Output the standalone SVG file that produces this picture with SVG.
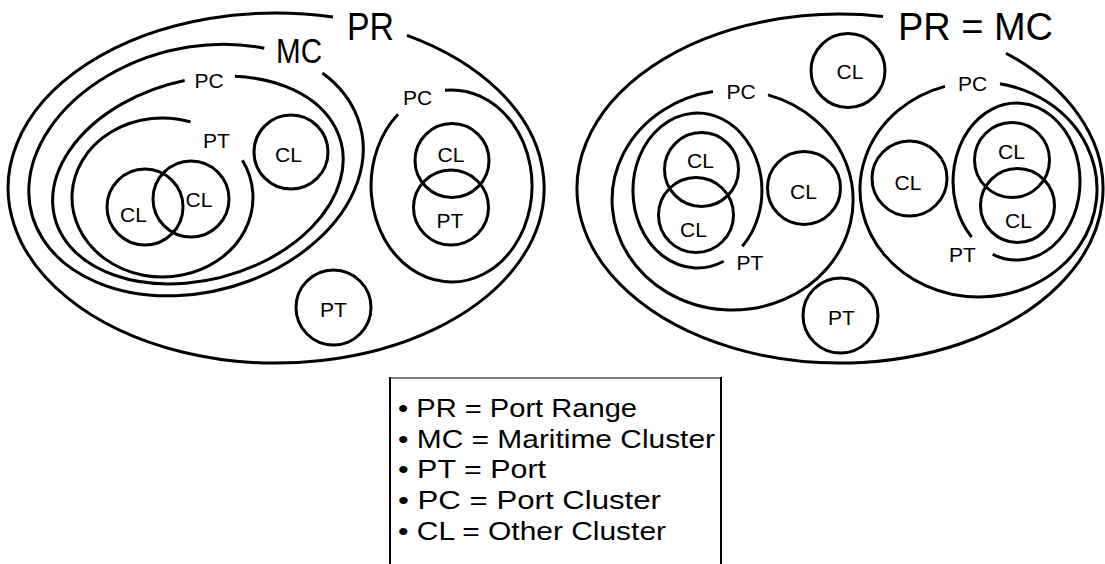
<svg xmlns="http://www.w3.org/2000/svg" width="1105" height="564" viewBox="0 0 1105 564">
<style>
.s{fill:none;stroke:#000;stroke-width:3}
.t{font-family:"Liberation Sans",Arial,sans-serif;font-size:21px;fill:#000;text-anchor:middle}
.big{font-family:"Liberation Sans",Arial,sans-serif;fill:#000;text-anchor:middle}
.lg{font-family:"Liberation Sans",Arial,sans-serif;font-size:26px;fill:#000}
</style>
<rect width="1105" height="564" fill="#fff"/>
<g id="connectors"/>
<!-- LEFT DIAGRAM -->
<g id="left-PR">
<path class="s" d="M 407 35.3 A 268 175 0 1 1 333 17"/>
<text class="big" x="370.5" y="40" font-size="38" textLength="47" lengthAdjust="spacingAndGlyphs">PR</text>
</g>
<g id="left-MC">
<path class="s" transform="translate(196,170) rotate(-15)" d="M 147.2 -61 A 170 122 0 1 1 97.5 -99.9"/>
<text class="big" x="299" y="63" font-size="35" textLength="46" lengthAdjust="spacingAndGlyphs">MC</text>
</g>
<g id="left-PC1">
<path class="s" transform="translate(198,180) rotate(-15)" d="M 62.5 -90.6 A 148 100 0 1 1 12.9 -99.6"/>
<text class="t" x="209" y="88">PC</text>
</g>
<g id="left-PT1">
<path class="s" d="M 242.4 160.2 A 90.5 79.5 0 1 1 190.5 121.9"/>
<text class="t" x="216.5" y="148">PT</text>
</g>
<g id="left-CL1"><circle class="s" cx="145" cy="207" r="38"/><text class="t" x="133.5" y="222">CL</text></g>
<g id="left-CL2"><circle class="s" cx="191" cy="199" r="38"/><text class="t" x="199" y="207">CL</text></g>
<g id="left-CL3"><circle class="s" cx="291" cy="152" r="37"/><text class="t" x="288.5" y="162">CL</text></g>
<g id="left-PC2">
<path class="s" d="M 445 90.3 A 80.5 96 0 1 1 398 114.3"/>
<text class="t" x="417.5" y="105">PC</text>
</g>
<g id="left-CL4"><circle class="s" cx="452" cy="160.5" r="37"/><text class="t" x="451" y="162">CL</text></g>
<g id="left-PT2"><circle class="s" cx="451" cy="207.5" r="37.5"/><text class="t" x="450" y="228">PT</text></g>
<g id="left-PT3"><circle class="s" cx="333.5" cy="307.5" r="37.5"/><text class="t" x="333.5" y="317">PT</text></g>
<!-- RIGHT DIAGRAM -->
<g id="right-PRMC">
<path class="s" d="M 1006 53.2 A 263 174.5 0 1 1 883 16.4"/>
<text class="big" x="975.5" y="40" font-size="38" textLength="155" lengthAdjust="spacingAndGlyphs">PR = MC</text>
</g>
<g id="right-CL0"><circle class="s" cx="848" cy="70.5" r="37"/><text class="t" x="850" y="79">CL</text></g>
<g id="right-PC1">
<path class="s" d="M 768 94.9 A 120.5 110 0 1 1 713 91.5"/>
<text class="t" x="741" y="99">PC</text>
</g>
<g id="right-PT1">
<path class="s" d="M 723.7 261.3 A 64.5 77.5 0 1 1 742.3 246.2"/>
<text class="t" x="750" y="270">PT</text>
</g>
<g id="right-CL1"><circle class="s" cx="701.5" cy="169.5" r="37"/><text class="t" x="700.5" y="168">CL</text></g>
<g id="right-CL2"><circle class="s" cx="696" cy="215" r="37.5"/><text class="t" x="693.5" y="237">CL</text></g>
<g id="right-CL3"><circle class="s" cx="804" cy="188" r="36.5"/><text class="t" x="803.5" y="199">CL</text></g>
<g id="right-PC2">
<path class="s" d="M 1000 83.8 A 118.5 107.5 0 1 1 945 86.4"/>
<text class="t" x="972.5" y="91">PC</text>
</g>
<g id="right-CL4"><circle class="s" cx="909.5" cy="178.5" r="37.5"/><text class="t" x="908" y="190">CL</text></g>
<g id="right-PT2">
<path class="s" d="M 971.6 237 A 63.5 78.5 0 1 1 992.7 254.3"/>
<text class="t" x="962.5" y="262">PT</text>
</g>
<g id="right-CL5"><circle class="s" cx="1012" cy="160" r="37.5"/><text class="t" x="1011.5" y="159">CL</text></g>
<g id="right-CL6"><circle class="s" cx="1017.5" cy="205.5" r="37"/><text class="t" x="1018.5" y="228">CL</text></g>
<g id="right-PT3"><circle class="s" cx="840.5" cy="315.5" r="37.5"/><text class="t" x="841.5" y="325">PT</text></g>
<!-- LEGEND -->
<g id="legend">
<line x1="390" y1="378" x2="721" y2="378" stroke="#555" stroke-width="1.5"/>
<line x1="390" y1="377" x2="390" y2="564" stroke="#000" stroke-width="2"/>
<line x1="721" y1="377" x2="721" y2="564" stroke="#000" stroke-width="2"/>
<text class="lg" x="398" y="417" textLength="239" lengthAdjust="spacingAndGlyphs">• PR = Port Range</text>
<text class="lg" x="398" y="448" textLength="317" lengthAdjust="spacingAndGlyphs">• MC = Maritime Cluster</text>
<text class="lg" x="398" y="478" textLength="148" lengthAdjust="spacingAndGlyphs">• PT = Port</text>
<text class="lg" x="398" y="509" textLength="263" lengthAdjust="spacingAndGlyphs">• PC = Port Cluster</text>
<text class="lg" x="398" y="540" textLength="268" lengthAdjust="spacingAndGlyphs">• CL = Other Cluster</text>
</g>
</svg>
